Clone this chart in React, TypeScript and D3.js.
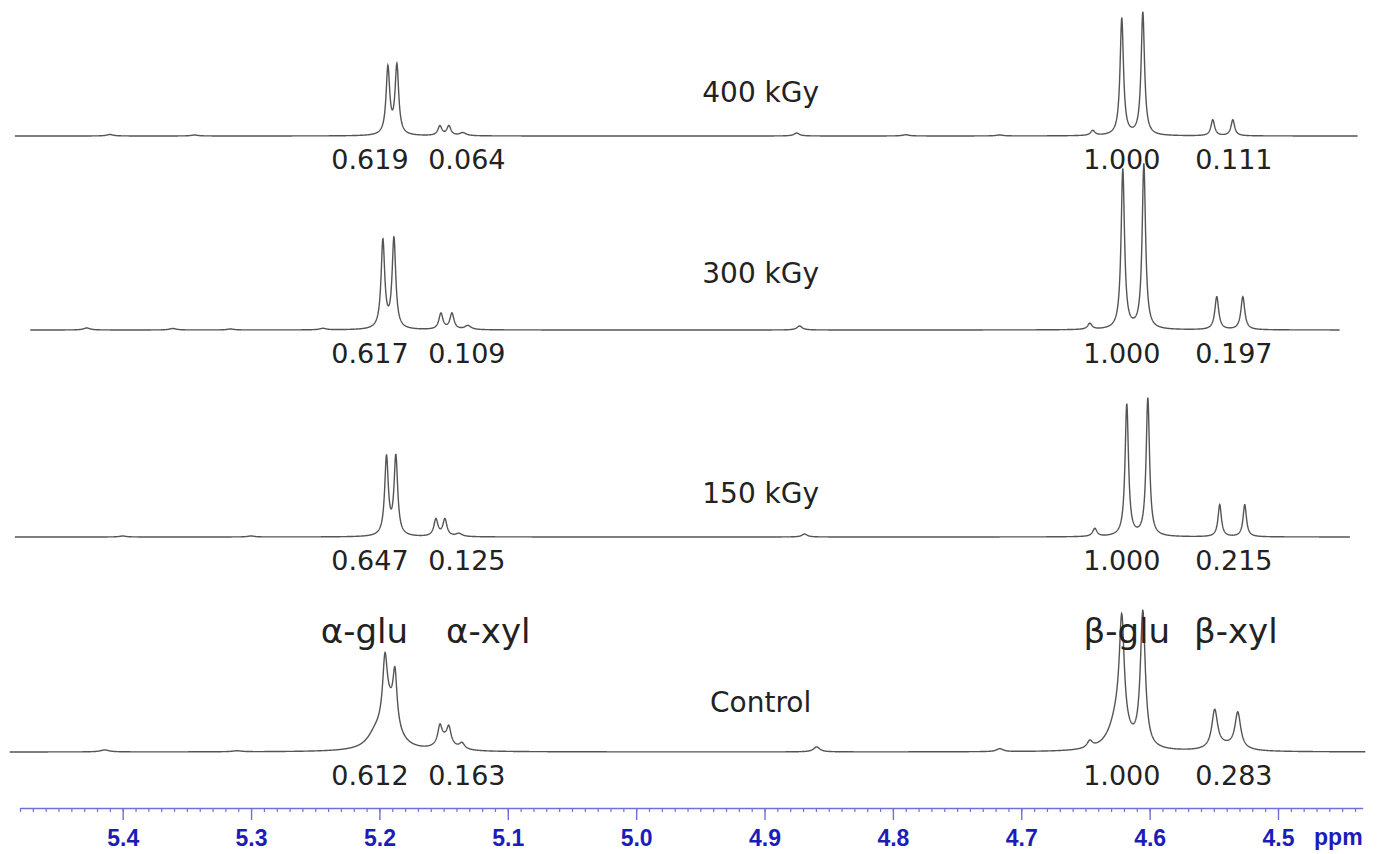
import React, { Component } from 'react'
import * as d3 from 'd3'

// stacked 1H NMR spectra, anomeric region
const samples = ['400 kGy', '300 kGy', '150 kGy', 'Control']
const stackOffsets = [616, 422, 215, 0]
const ppmRanges = [[5.484, 4.438], [5.472, 4.452], [5.484, 4.444], [5.488, 4.432]]

// peaks: [ppm, height, half width at half height (ppm)]
const peaks400 = [
  [5.41, 1.5, 0.003], [5.344, 1, 0.003],
  [5.1934, 67, 0.0017], [5.1864, 69, 0.0017],
  [5.1529, 9.5, 0.0019], [5.1459, 9.5, 0.0019], [5.135, 3, 0.003],
  [4.875, 3, 0.0025], [4.79, 1.2, 0.003], [4.717, 1, 0.003],
  [4.6443, 5, 0.002], [4.6217, 117, 0.0016], [4.6053, 123, 0.0016],
  [4.5508, 16, 0.0017], [4.5352, 16, 0.0017],
]
const peaks300 = [
  [5.428, 2, 0.003], [5.361, 1.5, 0.003], [5.316, 1, 0.003], [5.244, 1.5, 0.003],
  [5.1973, 88, 0.0017], [5.1887, 90, 0.0017],
  [5.1521, 16, 0.0019], [5.1435, 16, 0.0019], [5.1311, 4, 0.003],
  [4.8727, 4, 0.0025],
  [4.6466, 6, 0.002], [4.6209, 160, 0.0016], [4.6045, 165, 0.0016],
  [4.5477, 33, 0.0018], [4.5274, 33, 0.0018],
]
const peaks150 = [
  [5.40, 1, 0.003], [5.30, 1, 0.003],
  [5.1945, 78, 0.0017], [5.1872, 79, 0.0017],
  [5.156, 17, 0.0019], [5.149, 17, 0.0019], [5.1381, 3, 0.003],
  [4.8688, 3, 0.0025],
  [4.6427, 8, 0.002], [4.6178, 132, 0.0016], [4.6014, 138, 0.0016],
  [4.5454, 32, 0.0016], [4.5259, 32, 0.0016],
]
const peaksControl = [
  [5.414, 2, 0.004], [5.311, 1, 0.004],
  [5.2035, 10, 0.007], [5.1925, 40, 0.0075], [5.1957, 58, 0.0021], [5.1879, 50, 0.0019],
  [5.149, 11, 0.0065], [5.1529, 17, 0.0019], [5.1459, 15, 0.0019], [5.1357, 6, 0.0025],
  [4.8594, 5, 0.003], [4.7167, 3, 0.003],
  [4.6466, 7, 0.0025], [4.6248, 32, 0.0078], [4.6217, 108, 0.0023], [4.6053, 135, 0.0023],
  [4.541, 5, 0.0117], [4.5493, 38, 0.0027], [4.5313, 36, 0.0027],
]
const peakSets = [peaks400, peaks300, peaks150, peaksControl]

const integrals400 = ['0.619', '0.064', '1.000', '0.111']
const integrals300 = ['0.617', '0.109', '1.000', '0.197']
const integrals150 = ['0.647', '0.125', '1.000', '0.215']
const integralsControl = ['0.612', '0.163', '1.000', '0.283']
const integralSets = [integrals400, integrals300, integrals150, integralsControl]
const integralPpm = [5.2074, 5.1319, 4.6217, 4.5344]

const groupNames = ['α-glu', 'α-xyl', 'β-glu', 'β-xyl']
const groupPpm = [5.2117, 5.1152, 4.6178, 4.5329]

const majorTicks = [5.4, 5.3, 5.2, 5.1, 5.0, 4.9, 4.8, 4.7, 4.6, 4.5]
const tickLabels = ['5.4', '5.3', '5.2', '5.1', '5.0', '4.9', '4.8', '4.7', '4.6', '4.5']
const axisRange = [5.48, 4.434]

class Spectra extends Component {
  width = 1384
  height = 854
  node = null

  componentDidMount() {
    this.createChart()
  }
  componentDidUpdate() {
    this.createChart()
  }

  createChart() {
    const svg = d3.select(this.node)
    svg.selectAll('*').remove()

    const x = d3.scaleLinear().domain([5.4, 4.5]).range([122.7, 1278])
    const y = d3.scaleLinear().domain([0, 800]).range([752, -48])

    const lorentz = (ppm, peaks) =>
      d3.sum(peaks, p => p[1] * p[2] * p[2] / (p[2] * p[2] + (ppm - p[0]) * (ppm - p[0])))

    samples.forEach((name, i) => {
      const [start, end] = ppmRanges[i]
      const n = Math.round((start - end) / 0.0002)
      const pts = d3.range(n + 1).map(k => {
        const ppm = start - (start - end) * k / n
        return [ppm, lorentz(ppm, peakSets[i])]
      })
      const off = stackOffsets[i]
      const line = d3.line()
        .x(d => x(d[0]))
        .y(d => y(d[1] + off))

      svg.append('path')
        .datum(pts)
        .attr('d', line)
        .attr('fill', 'none')
        .attr('stroke', '#555')
        .attr('stroke-width', 1.4)

      // integral values under each multiplet
      svg.append('g')
        .selectAll('text')
        .data(integralSets[i])
        .enter()
        .append('text')
        .attr('x', (d, j) => x(integralPpm[j]))
        .attr('y', y(off) + 33)
        .attr('text-anchor', 'middle')
        .attr('font-family', 'DejaVu Sans')
        .attr('font-size', 27)
        .attr('fill', '#222')
        .text(d => d)

      const lift = [34, 47, 34, 40][i]
      svg.append('text')
        .attr('x', x(4.903))
        .attr('y', y(off) - lift)
        .attr('text-anchor', 'middle')
        .attr('font-family', 'DejaVu Sans')
        .attr('font-size', 28)
        .attr('fill', '#222')
        .text(name)
    })

    svg.append('g')
      .selectAll('text')
      .data(groupNames)
      .enter()
      .append('text')
      .attr('x', (d, j) => x(groupPpm[j]))
      .attr('y', y(0) - 109)
      .attr('text-anchor', 'middle')
      .attr('font-family', 'DejaVu Sans')
      .attr('font-size', 34)
      .attr('fill', '#222')
      .text(d => d)

    this.renderAxis(svg, x)
  }

  renderAxis(svg, x) {
    const axisY = 808
    const ax = x.copy().domain(axisRange).range(axisRange.map(v => x(v)))
    const minor = d3.range(0, 105).map(k => +(axisRange[0] - k * 0.01).toFixed(2))

    const minorAxis = d3.axisBottom(ax)
      .tickValues(minor)
      .tickSize(4)
      .tickSizeOuter(0)
      .tickFormat(() => '')
    const majorAxis = d3.axisBottom(ax)
      .tickValues(majorTicks)
      .tickSize(12)
      .tickPadding(10)
      .tickFormat((d, i) => tickLabels[i])

    const g1 = svg.append('g').attr('transform', `translate(0,${axisY})`).call(minorAxis)
    const g2 = svg.append('g').attr('transform', `translate(0,${axisY})`).call(majorAxis)
    g2.select('.domain').remove()
    g1.select('.domain').attr('stroke', '#6f6fd6').attr('stroke-width', 1.6)
    g1.selectAll('.tick line').attr('stroke', '#6f6fd6').attr('stroke-width', 1.2)
    g2.selectAll('.tick line').attr('stroke', '#6f6fd6').attr('stroke-width', 1.4)
    g2.attr('font-size', 23).attr('font-family', 'Liberation Sans')
    g2.selectAll('.tick text')
      .attr('fill', '#1c1cb8')
      .attr('font-weight', 'bold')
      .style('font-size', '23px')

    svg.append('text')
      .attr('x', x(4.453))
      .attr('y', 845)
      .attr('text-anchor', 'middle')
      .attr('font-family', 'Liberation Sans')
      .attr('font-weight', 'bold')
      .attr('font-size', 23)
      .attr('fill', '#1c1cb8')
      .text('ppm')
  }

  render() {
    return <svg ref={node => this.node = node} width={this.width} height={this.height}
      style={{ position: 'absolute', left: 0, top: 0, background: '#fff' }}></svg>
  }
}

export default function App() {
  return <Spectra />
}
